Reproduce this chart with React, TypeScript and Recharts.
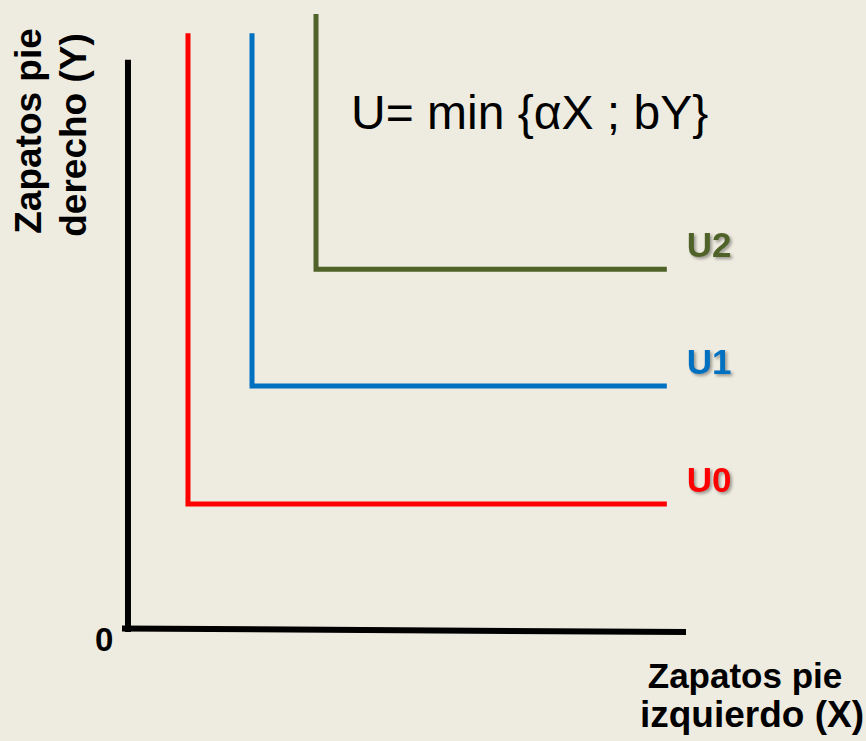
import React from "react";
import { Customized, Line, LineChart, XAxis, YAxis } from "recharts";

// Curvas de indiferencia de complementos perfectos (U = min {αX ; bY})
const curveLabels = ["U0", "U1", "U2"];
const cornerX = [11.7, 23.05, 34.4];
const cornerY = [20.7, 39.8, 58.7];
const topY = [96.9, 96.9, 100];
const endX = 96.6;

// ejes dibujados a mano (el eje X está un poco inclinado en el original)
const axisYX = 1.06;
const axisYTop = 92.6;
const axisXLeftY = 0.57;

const colors = ["#FF0000", "#0070C0", "#4F6228"];
const FONT = "Arial, 'Liberation Sans', Helvetica, sans-serif";

const curves = curveLabels.map((name, i) => ({
  name,
  points: [
    { x: cornerX[i], y: topY[i] },
    { x: cornerX[i], y: cornerY[i] },
    { x: endX, y: cornerY[i] },
  ],
}));

const yAxisLine = [
  { x: axisYX, y: 0 },
  { x: axisYX, y: axisYTop },
];
const xAxisLine = [
  { x: 0, y: axisXLeftY },
  { x: 100, y: 0 },
];

const shadow = "drop-shadow(2px 2px 1.5px rgba(0,0,0,0.35))";

function Texts() {
  return (
    <g fontFamily={FONT} fill="#000">
      <text x={351} y={129} fontSize={48}>
        U= min {"{"}αX ; bY{"}"}
      </text>
      <text x={95} y={651} fontSize={33} fontWeight="bold">
        0
      </text>
      <g fontWeight="bold" textAnchor="middle">
        <text x={745} y={688} fontSize={35}>Zapatos pie</text>
        <text x={752} y={727} fontSize={37}>izquierdo (X)</text>
        <text x={41} y={131} fontSize={37} transform="rotate(-90 41 131)">
          Zapatos pie
        </text>
        <text x={86} y={135} fontSize={37} transform="rotate(-90 86 135)">
          derecho (Y)
        </text>
      </g>
    </g>
  );
}

export default function App() {
  return (
    <div
      style={{
        position: "absolute",
        left: 0,
        top: 0,
        width: 866,
        height: 741,
        background: "#EEEBE0",
      }}
    >
      <LineChart width={866} height={741} margin={{ top: 14, right: 180, bottom: 109, left: 122 }}>
        <XAxis type="number" dataKey="x" domain={[0, 100]} hide />
        <YAxis type="number" domain={[0, 100]} hide />
        <Line
          data={yAxisLine}
          dataKey="y"
          stroke="#000"
          strokeWidth={6}
          dot={false}
          activeDot={false}
          isAnimationActive={false}
        />
        <Line
          data={xAxisLine}
          dataKey="y"
          stroke="#000"
          strokeWidth={6}
          dot={false}
          activeDot={false}
          isAnimationActive={false}
        />
        {curves.map((c, i) => (
          <Line
            key={c.name}
            data={c.points}
            dataKey="y"
            name={c.name}
            stroke={colors[i]}
            strokeWidth={5}
            strokeLinejoin="miter"
            dot={false}
            activeDot={false}
            isAnimationActive={false}
            label={(p: any) =>
              p.index === 2 ? (
                <text
                  key={c.name}
                  x={p.x + 20}
                  y={p.y - 12}
                  fill={colors[i]}
                  fontFamily={FONT}
                  fontWeight="bold"
                  fontSize={35}
                  style={{ filter: shadow }}
                >
                  {c.name}
                </text>
              ) : (
                <g key={c.name + p.index} />
              )
            }
          />
        ))}
        <Customized component={Texts} />
      </LineChart>
    </div>
  );
}
